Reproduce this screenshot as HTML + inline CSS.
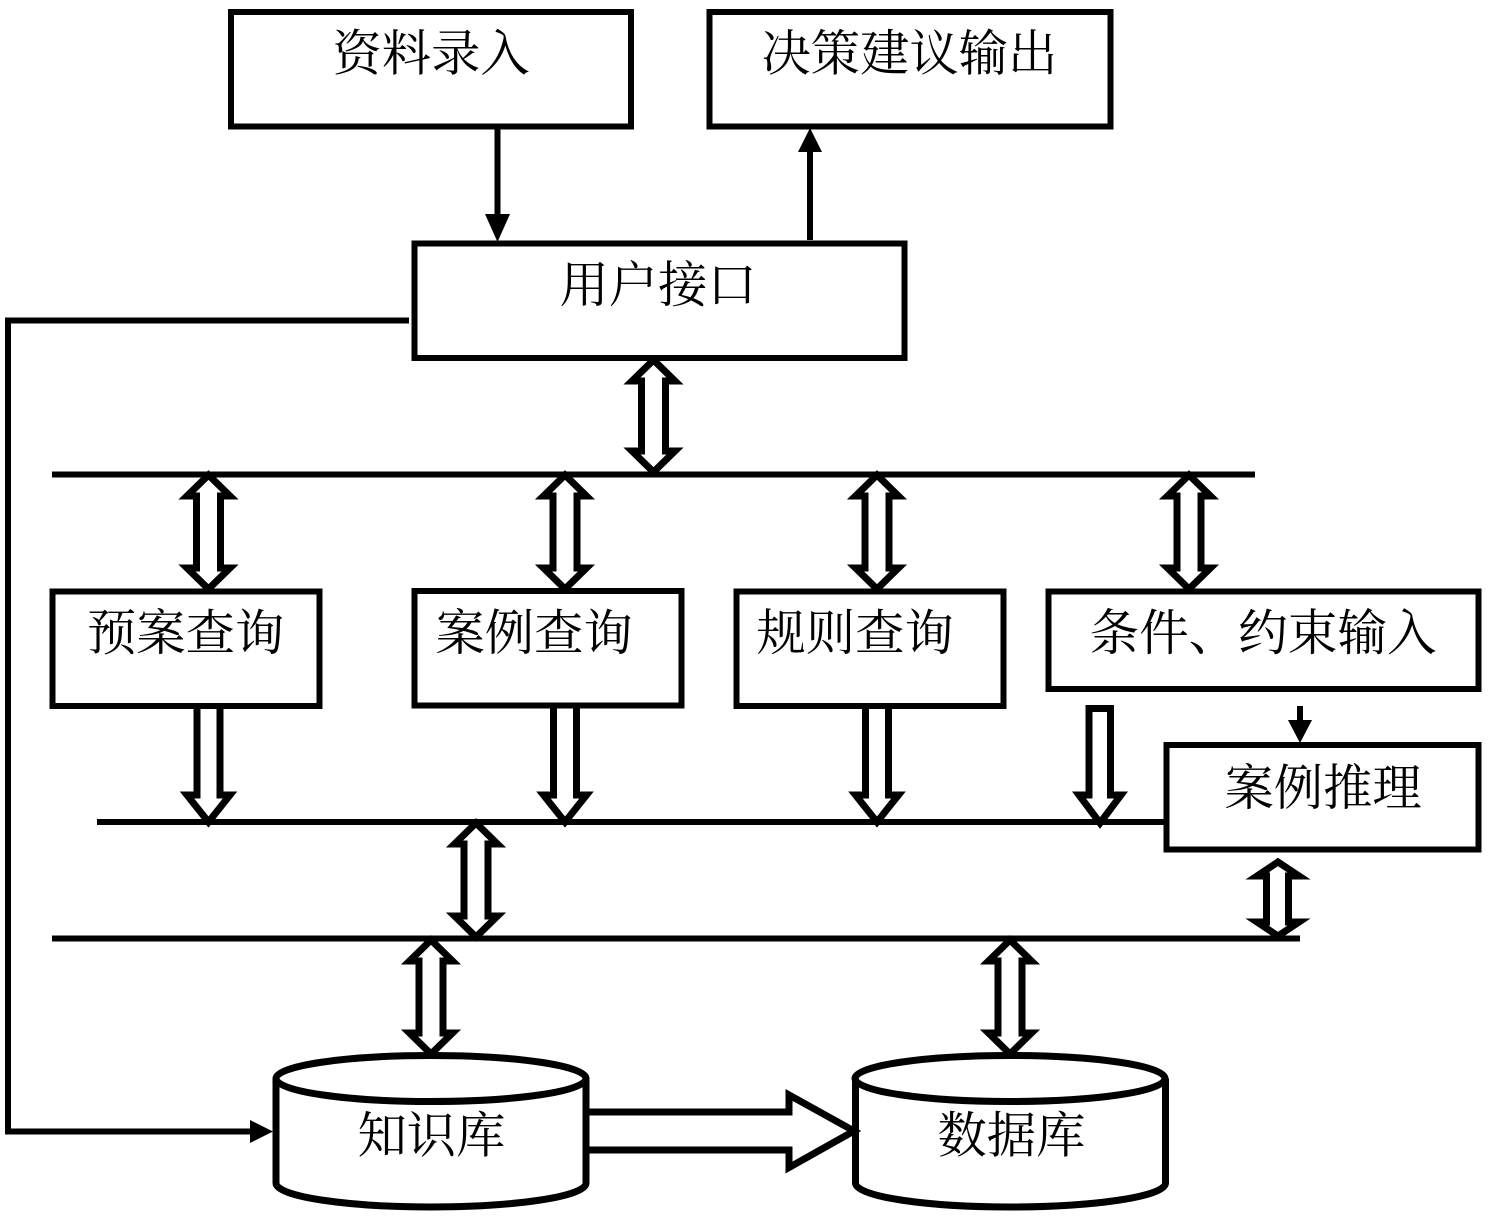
<!DOCTYPE html>
<html lang="zh">
<head>
<meta charset="utf-8">
<style>
html,body{margin:0;padding:0;background:#fff;width:1488px;height:1216px;overflow:hidden}
svg{display:block}
text{font-family:"Liberation Serif","Noto Serif CJK SC",serif;font-size:49.3px;fill:#000}
</style>
</head>
<body>
<svg width="1488" height="1216" viewBox="0 0 1488 1216" xmlns="http://www.w3.org/2000/svg">
<rect width="1488" height="1216" fill="#fff"/>
<g fill="none" stroke="#000" stroke-width="6" stroke-miterlimit="8">
<!-- boxes -->
<rect x="231" y="12" width="400" height="114.500"/>
<rect x="709.500" y="12" width="401" height="114.500"/>
<rect x="414.500" y="243.500" width="490" height="114.500"/>
<rect x="52.500" y="591.500" width="267" height="114.500"/>
<rect x="414.500" y="591" width="267" height="114.500"/>
<rect x="736.500" y="591.500" width="267" height="114.500"/>
<rect x="1048.500" y="591.500" width="430" height="97.500"/>
<rect x="1166.500" y="745" width="312" height="104.500"/>
<!-- bus lines -->
<path d="M52 474.500H1255M97 822H1166M52 938.500H1300"/>
<!-- thin connectors -->
<path d="M497.500 129V218M810 240V150M409 320.500H8V1131.500H252M1300 706V724"/>
<!-- double arrows -->
<g stroke-width="7">
<path d="M653.500 360L675 381H665.500V451H675L653.500 472L632 451H641.500V381H632Z"/>
<path d="M208.500 475L230 496H220.500V568H230L208.500 589L187 568H196.500V496H187Z"/>
<path d="M565 475L586.500 496H577V568H586.500L565 589L543.500 568H553V496H543.500Z"/>
<path d="M877 475L898.500 496H889V568H898.500L877 589L855.500 568H865V496H855.500Z"/>
<path d="M1189 475L1210.500 496H1201V568H1210.500L1189 589L1167.500 568H1177V496H1167.500Z"/>
<path d="M476 823L497.500 844H488V916H497.500L476 937L454.500 916H464V844H454.500Z"/>
<path d="M431 940L452.500 961H443V1033H452.500L431 1054L409.500 1033H419V961H409.500Z"/>
<path d="M1010 940L1031.500 961H1022V1033H1031.500L1010 1054L988.500 1033H998V961H988.500Z"/>
<path d="M1278 862L1299 876H1288.500V922H1299L1278 936L1257 922H1266.500V876H1257Z"/>
</g>
<!-- down arrows -->
<g stroke-width="7">
<path d="M197 708V795H187L208.500 822L230 795H220V708"/>
<path d="M553.500 708V795H543.500L565 822L586.500 795H576.500V708"/>
<path d="M865.500 708V795H855.500L877 822L898.500 795H888.500V708"/>
<path d="M1089 708.500H1110.500V795H1121L1100 823L1079 795H1089Z"/>
</g>
<!-- cylinders -->
<g stroke-width="7">
<ellipse cx="431" cy="1078.500" rx="155" ry="23"/>
<path d="M276 1078.500V1183C276 1197 350 1207 431 1207S586 1197 586 1183V1078.500"/>
<ellipse cx="1010" cy="1078.500" rx="155" ry="23"/>
<path d="M855.500 1078.500V1183C855.500 1197 929 1207 1010 1207S1165.500 1197 1165.500 1183V1078.500"/>
</g>
<!-- big arrow -->
<path stroke-width="7" d="M589 1112H789V1095L854 1131L789 1167.500V1150H589"/>
</g>
<g fill="#000">
<path d="M485 214H510L497.500 242Z"/>
<path d="M810 128L822 152H798Z"/>
<path d="M1288 720H1312L1300 743Z"/>
<path d="M250 1120L273 1131.500L250 1143Z"/>
</g>
<text x="332.500" y="70.500">资料录入</text>
<text x="761.500" y="70.500">决策建议输出</text>
<text x="559.500" y="302">用户接口</text>
<text x="87" y="650">预案查询</text>
<text x="435.500" y="650">案例查询</text>
<text x="756.500" y="650">规则查询</text>
<text x="1089.500" y="650" style="font-size:49.6px">条件、约束输入</text>
<text x="1224.500" y="805">案例推理</text>
<text x="357.500" y="1152.500">知识库</text>
<text x="937.500" y="1152.500">数据库</text>
</svg>
</body>
</html>
